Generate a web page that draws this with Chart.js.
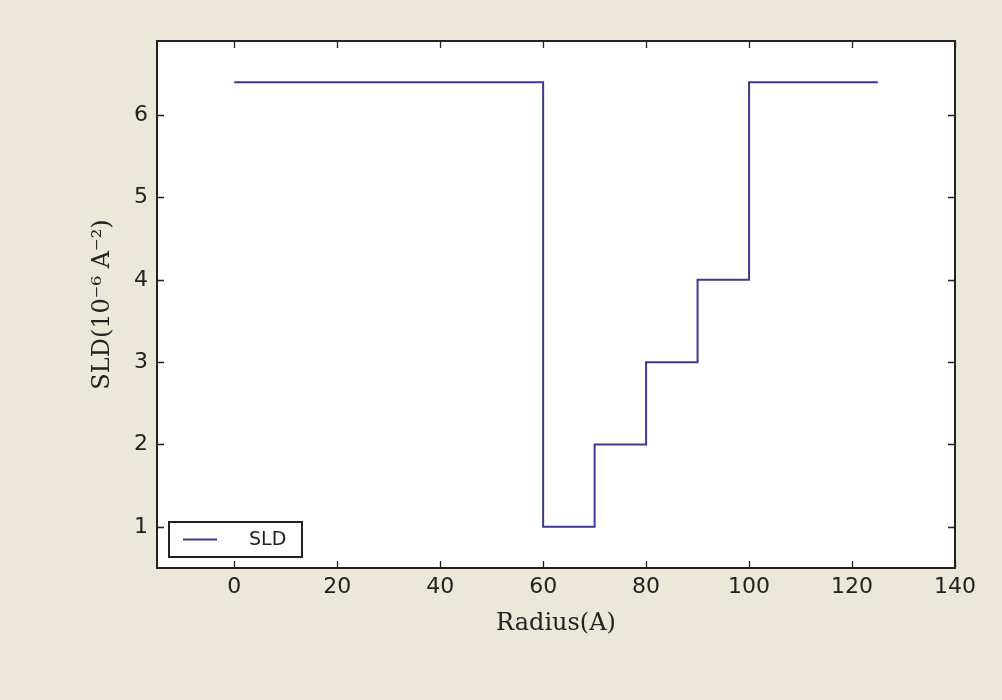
<!DOCTYPE html>
<html>
<head>
<meta charset="utf-8">
<script src="https://cdn.jsdelivr.net/npm/chart.js@4.4.0/dist/chart.umd.min.js"></script>
<style>
  html, body { margin: 0; padding: 0; background: #ebe7d9; }
  #sld-chart { display: block; }
</style>
</head>
<body>
<canvas id="sld-chart" width="1002" height="700"></canvas>
<script>
// step profile, one entry per corner of the line
const radius = [0, 60, 60, 70, 70, 80, 80, 90, 90, 100, 100, 125];
const sld = [6.4, 6.4, 1, 1, 2, 2, 3, 3, 4, 4, 6.4, 6.4];
const xTicks = [0, 20, 40, 60, 80, 100, 120, 140];
const yTicks = [1, 2, 3, 4, 5, 6];
const xLimits = [-15, 140];
const yLimits = [0.5, 6.9];

const frameColor = '#222222';
const lineColor = '#3a3a96';
const tickFont = { family: 'DejaVu Sans', size: 22 };
const titleFont = { family: 'DejaVu Serif', size: 24 };

// matplotlib-ish frame: white plot area, black box, inward ticks on all sides
const framePlugin = {
    id: 'frame',
    beforeDraw(chart) {
        const ctx = chart.ctx;
        const a = chart.chartArea;
        ctx.save();
        ctx.fillStyle = '#ebe7d9';
        ctx.fillRect(0, 0, chart.width, chart.height);
        ctx.fillStyle = '#ffffff';
        ctx.fillRect(a.left, a.top, a.right - a.left, a.bottom - a.top);
        ctx.restore();
    },
    afterDatasetsDraw(chart) {
        const ctx = chart.ctx;
        const a = chart.chartArea;
        const xs = chart.scales.x;
        const ys = chart.scales.y;
        const len = 7;
        ctx.save();
        ctx.strokeStyle = frameColor;
        ctx.lineWidth = 1.3;
        ctx.beginPath();
        xs.ticks.forEach(t => {
            const px = Math.round(xs.getPixelForValue(t.value)) + 0.5;
            ctx.moveTo(px, a.bottom); ctx.lineTo(px, a.bottom - len);
            ctx.moveTo(px, a.top); ctx.lineTo(px, a.top + len);
        });
        ys.ticks.forEach(t => {
            const py = Math.round(ys.getPixelForValue(t.value)) + 0.5;
            ctx.moveTo(a.left, py); ctx.lineTo(a.left + len, py);
            ctx.moveTo(a.right, py); ctx.lineTo(a.right - len, py);
        });
        ctx.stroke();
        ctx.lineWidth = 2;
        ctx.strokeRect(a.left, a.top, a.right - a.left, a.bottom - a.top);
        ctx.restore();
    }
};

// legend box in the lower left corner of the plot
const legendPlugin = {
    id: 'cornerLegend',
    afterDraw(chart) {
        const ctx = chart.ctx;
        const a = chart.chartArea;
        const ds = chart.data.datasets[0];
        const box = { x: a.left + 12, y: a.bottom - 46, w: 133, h: 35 };
        ctx.save();
        ctx.fillStyle = '#ffffff';
        ctx.fillRect(box.x, box.y, box.w, box.h);
        ctx.strokeStyle = frameColor;
        ctx.lineWidth = 2;
        ctx.strokeRect(box.x, box.y, box.w, box.h);
        ctx.strokeStyle = ds.borderColor;
        ctx.lineWidth = ds.borderWidth;
        ctx.beginPath();
        ctx.moveTo(box.x + 14, box.y + box.h / 2);
        ctx.lineTo(box.x + 48, box.y + box.h / 2);
        ctx.stroke();
        ctx.fillStyle = frameColor;
        ctx.font = '19px "DejaVu Sans"';
        ctx.textBaseline = 'middle';
        ctx.fillText(ds.label, box.x + 80, box.y + box.h / 2 + 1);
        ctx.restore();
    }
};

new Chart(document.getElementById('sld-chart'), {
    type: 'line',
    data: {
        labels: radius,
        datasets: [{
            label: 'SLD',
            data: radius.map((r, i) => ({ x: r, y: sld[i] })),
            borderColor: lineColor,
            borderWidth: 2,
            pointRadius: 0,
            fill: false,
            tension: 0
        }]
    },
    options: {
        responsive: false,
        animation: false,
        layout: { padding: { left: 0, top: 41, right: 47, bottom: 0 } },
        plugins: {
            legend: { display: false },
            tooltip: { enabled: false }
        },
        scales: {
            x: {
                type: 'linear',
                min: xLimits[0],
                max: xLimits[1],
                grid: { display: false, drawTicks: false },
                border: { display: false },
                afterBuildTicks: scale => { scale.ticks = xTicks.map(v => ({ value: v })); },
                afterFit: scale => { scale.height = 132; },
                ticks: { font: tickFont, color: frameColor, padding: 6, maxRotation: 0 },
                title: {
                    display: true,
                    text: 'Radius(A)',
                    font: titleFont,
                    color: frameColor,
                    padding: { top: 0, bottom: 62 }
                }
            },
            y: {
                type: 'linear',
                min: yLimits[0],
                max: yLimits[1],
                grid: { display: false, drawTicks: false },
                border: { display: false },
                afterBuildTicks: scale => { scale.ticks = yTicks.map(v => ({ value: v })); },
                afterFit: scale => { scale.width = 157; },
                ticks: { font: tickFont, color: frameColor, padding: 9 },
                title: {
                    display: true,
                    text: 'SLD(10⁻⁶ A⁻²)',
                    font: titleFont,
                    color: frameColor,
                    padding: { top: 88, bottom: 0 }
                }
            }
        }
    },
    plugins: [framePlugin, legendPlugin]
});
</script>
</body>
</html>
